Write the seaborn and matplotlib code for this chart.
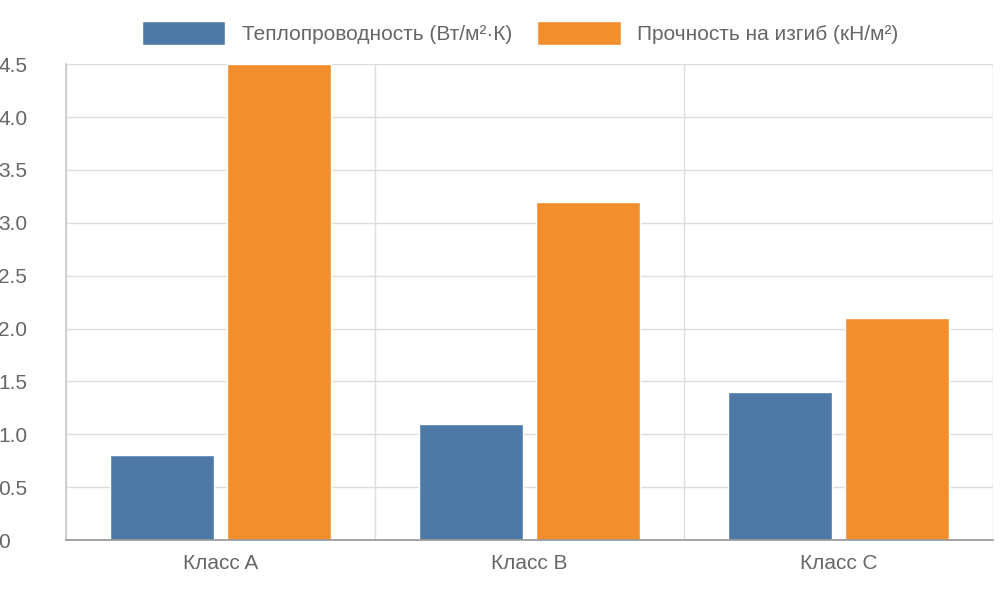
import matplotlib
matplotlib.use("Agg")
import matplotlib.pyplot as plt
import seaborn as sns
import pandas as pd

categories = ["Класс A", "Класс B", "Класс C"]
series_names = ["Теплопроводность (Вт/м²·К)", "Прочность на изгиб (кН/м²)"]
conductivity = [0.8, 1.1, 1.4]
strength = [4.5, 3.2, 2.1]
yticks = [0, 0.5, 1.0, 1.5, 2.0, 2.5, 3.0, 3.5, 4.0, 4.5]
ytick_labels = ["0", "0.5", "1.0", "1.5", "2.0", "2.5", "3.0", "3.5", "4.0", "4.5"]

df = pd.DataFrame({
    "cat": categories * 2,
    "series": [series_names[0]] * 3 + [series_names[1]] * 3,
    "val": conductivity + strength,
})

sns.set_theme(style="white")
plt.rcParams['font.family'] = ['Liberation Sans', 'DejaVu Sans']

fig = plt.figure(figsize=(10, 6), dpi=100)
ax = fig.add_axes([0.066, 0.1, 0.927, 0.793])
sns.barplot(data=df, x="cat", y="val", hue="series", palette=["#4e79a7", "#f28e2b"],
            width=0.76, gap=0.11, ax=ax, saturation=1, legend=True)
ax.set_xlim(-0.5, 2.5)
ax.set_ylim(0, 4.5)
ax.set_yticks(yticks)
ax.set_yticklabels(ytick_labels)
ax.set_xlabel("")
ax.set_ylabel("")
ax.set_xticks([-0.5, 0.5, 1.5, 2.5], minor=True)
ax.tick_params(axis="x", which="major", length=0, labelsize=15, colors="#666666", pad=10)
ax.tick_params(axis="x", which="minor", length=18, color="#cccccc", width=1)
ax.tick_params(axis="y", length=0, labelsize=15, colors="#666666", pad=8)
for lab in ax.get_yticklabels():
    lab.set_horizontalalignment("left")
    lab.set_x(-0.061)
ax.grid(axis="y", color="#dddddd", lw=1)
ax.grid(axis="x", which="minor", color="#dddddd", lw=1)
ax.set_axisbelow(True)
for s in ["top", "right"]:
    ax.spines[s].set_visible(False)
ax.spines["left"].set_color("#cccccc")
ax.spines["bottom"].set_color("#999999")
ax.legend(loc="upper center", bbox_to_anchor=(0.49, 1.13), ncol=2, frameon=False,
          fontsize=15, handlelength=4, handleheight=1.4, columnspacing=1.2,
          labelcolor="#666666")
fig.savefig("out.png", dpi=100)
